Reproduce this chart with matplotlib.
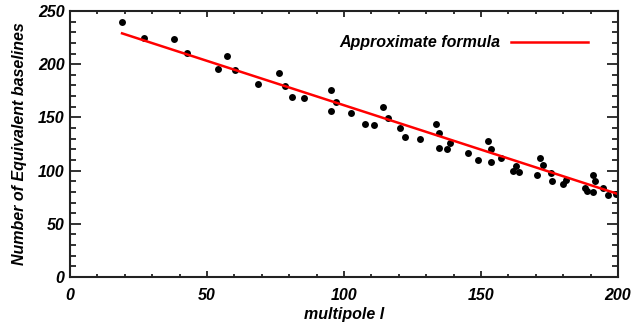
import numpy as np
import matplotlib
matplotlib.use("Agg")
import matplotlib.pyplot as plt
from matplotlib.ticker import MultipleLocator

# measured points: multipole l vs number of equivalent baselines
multipole = [19.0, 27.0, 38.1, 42.6, 54.0, 57.2, 60.3, 68.7, 76.3, 78.6,
             80.9, 85.3, 95.3, 97.2, 95.3, 102.7, 107.8, 111.1, 114.3, 116.0,
             120.6, 122.1, 127.8, 133.5, 134.8, 134.8, 137.5, 138.8, 145.2, 148.8,
             152.6, 153.7, 153.7, 157.2, 161.8, 162.9, 163.9, 170.5, 171.6, 172.7,
             175.7, 175.8, 179.8, 180.9, 187.8, 188.8, 190.7, 190.7, 191.7, 194.5,
             196.3, 199.1]
baselines = [240.0, 225.0, 224.0, 210.2, 195.7, 207.9, 194.8, 181.8, 191.9, 179.9,
             168.8, 167.9, 176.0, 164.8, 155.7, 153.7, 143.7, 142.7, 160.0, 149.6,
             139.7, 131.6, 129.8, 143.9, 134.9, 120.8, 119.9, 125.8, 116.9, 110.1,
             127.7, 120.0, 107.7, 111.9, 99.7, 104.0, 98.7, 95.7, 111.7, 104.8,
             97.6, 89.8, 87.7, 91.0, 83.9, 80.8, 95.9, 79.5, 89.8, 83.6,
             76.9, 77.8]

# approximate formula (straight line)
formula_l = [19.0, 200.0]
formula_n = [229.0, 78.0]

plt.rcParams['font.family'] = ['Liberation Sans', 'DejaVu Sans']
plt.rcParams['font.weight'] = 'bold'
plt.rcParams['font.style'] = 'italic'
plt.rcParams['axes.labelweight'] = 'bold'

fig = plt.figure(figsize=(6.34, 3.24), dpi=100)
ax = fig.add_axes([70/634, 1-277/324, 548/634, 266/324])

ax.plot(multipole, baselines, 'o', color='black', markersize=5, markeredgewidth=0)
ax.plot(formula_l, formula_n, '-', color='red', linewidth=1.8, label='Approximate formula')

ax.set_xlim(0, 200)
ax.set_ylim(0, 250)
ax.xaxis.set_major_locator(MultipleLocator(50))
ax.xaxis.set_minor_locator(MultipleLocator(10))
ax.yaxis.set_major_locator(MultipleLocator(50))
ax.yaxis.set_minor_locator(MultipleLocator(10))

ax.tick_params(axis='both', which='both', direction='in', top=True, right=True,
               width=1.3, labelsize=11.5, color='#222222')
ax.tick_params(axis='x', which='major', length=4.5, pad=8)
ax.tick_params(axis='x', which='minor', length=2.5)
ax.tick_params(axis='y', which='major', length=8, pad=4)
ax.tick_params(axis='y', which='minor', length=4.5)
for s in ax.spines.values():
    s.set_linewidth(1.5)
    s.set_color('#222222')

ax.set_xlabel('multipole l', fontsize=11.5, labelpad=3)
ax.set_ylabel('Number of Equivalent baselines', fontsize=11.5, labelpad=8)

ax.legend(loc='center right', bbox_to_anchor=(0.945, 0.88), frameon=False,
          markerfirst=False, handlelength=4.8, handletextpad=0.7,
          borderpad=0, borderaxespad=0, prop={'size': 11.5, 'weight': 'bold', 'style': 'italic'})

fig.savefig('out.png', dpi=100)
